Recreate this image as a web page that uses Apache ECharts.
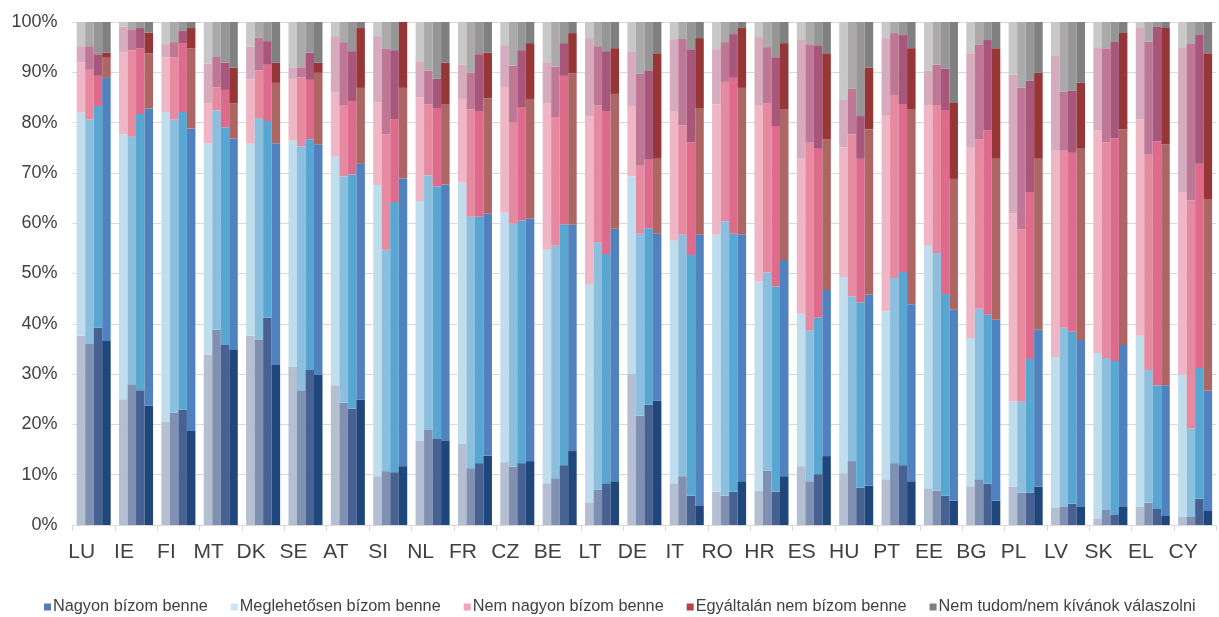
<!DOCTYPE html>
<html>
<head>
<meta charset="utf-8">
<script src="https://cdn.jsdelivr.net/npm/echarts@6/dist/echarts.min.js"></script>
<style>
  html, body { margin: 0; padding: 0; background: #fff; }
  #chart { width: 1219px; height: 617px; }
</style>
</head>
<body>
<div id="chart"></div>
<script>
// országok
const countries = ['LU', 'IE', 'FI', 'MT', 'DK', 'SE', 'AT', 'SI', 'NL', 'FR', 'CZ', 'BE', 'LT', 'DE',
  'IT', 'RO', 'HR', 'ES', 'HU', 'PT', 'EE', 'BG', 'PL', 'LV', 'SK', 'EL', 'CY'];

const answers = ['Nagyon bízom benne', 'Meglehetősen bízom benne', 'Nem nagyon bízom benne',
  'Egyáltalán nem bízom benne', 'Nem tudom/nem kívánok válaszolni'];

const yTicks = ['0%', '10%', '20%', '30%', '40%', '50%', '60%', '70%', '80%', '90%', '100%'];

// 4 hullám / válasz, sorok = hullám 1..4
const nagyon = [
  [37.6, 25.0, 20.6, 33.9, 37.6, 31.5, 27.8, 9.7, 16.8, 16.2, 12.5, 8.3, 4.5, 30.0, 8.3, 6.6, 6.8, 11.7, 10.3, 9.1, 7.3, 7.7, 7.6, 3.5, 1.2, 3.6, 1.6],
  [36.0, 28.0, 22.3, 38.8, 36.8, 26.8, 24.3, 10.7, 18.9, 11.3, 11.6, 9.3, 7.0, 21.7, 9.7, 5.8, 10.8, 8.7, 12.7, 12.3, 6.8, 9.1, 6.4, 3.7, 3.0, 4.4, 1.6],
  [39.2, 26.8, 22.9, 35.8, 41.2, 30.8, 23.1, 10.5, 17.1, 12.3, 12.3, 11.9, 8.3, 23.9, 5.8, 6.6, 6.6, 10.1, 7.4, 11.9, 5.8, 8.2, 6.4, 4.2, 2.0, 3.2, 5.2],
  [36.6, 23.7, 18.7, 34.8, 31.8, 29.8, 24.9, 11.7, 16.7, 13.8, 12.7, 14.7, 8.7, 24.7, 3.8, 8.7, 9.7, 13.7, 7.8, 8.7, 4.8, 4.8, 7.6, 3.6, 3.6, 1.8, 2.8]
];
const meglehetosen = [
  [44.4, 52.7, 61.5, 41.9, 38.2, 44.9, 45.4, 57.9, 47.6, 51.9, 49.6, 46.4, 43.4, 39.3, 48.2, 51.1, 41.6, 30.3, 39.0, 33.4, 48.2, 29.5, 17.0, 29.9, 33.0, 34.0, 28.2],
  [44.6, 49.2, 58.3, 43.6, 44.1, 48.5, 45.0, 44.0, 50.6, 50.0, 48.3, 46.2, 49.1, 36.2, 48.0, 54.6, 39.4, 29.9, 32.8, 36.8, 47.3, 33.9, 18.1, 35.5, 30.2, 26.4, 17.6],
  [44.1, 54.9, 59.2, 43.3, 39.1, 45.9, 46.6, 53.7, 50.2, 49.0, 48.2, 47.9, 45.6, 35.1, 47.9, 51.3, 40.8, 31.1, 36.9, 38.4, 40.1, 33.6, 26.6, 34.2, 30.6, 24.6, 26.0],
  [52.3, 59.1, 60.1, 42.0, 44.1, 45.9, 46.9, 57.2, 51.0, 48.1, 48.2, 45.0, 50.2, 33.2, 53.9, 49.0, 43.0, 33.0, 38.0, 35.2, 38.0, 36.0, 31.2, 33.2, 32.2, 26.0, 23.9]
];
const nemNagyon = [
  [10.0, 16.2, 10.9, 8.0, 12.8, 12.3, 12.9, 16.4, 20.6, 16.6, 25.0, 29.2, 33.3, 14.0, 25.8, 25.9, 35.1, 30.8, 25.8, 39.0, 28.0, 37.8, 37.4, 41.0, 44.2, 43.0, 36.3],
  [9.9, 17.2, 12.4, 4.6, 9.5, 13.7, 14.2, 23.0, 14.1, 21.3, 20.1, 25.6, 27.3, 13.5, 21.7, 27.7, 33.7, 37.4, 32.2, 36.4, 29.4, 33.7, 34.3, 35.2, 42.9, 42.8, 45.3],
  [6.0, 13.1, 13.7, 7.4, 11.2, 11.8, 14.6, 16.5, 15.6, 21.0, 22.6, 29.5, 28.4, 13.6, 22.4, 31.0, 31.9, 33.6, 28.5, 33.4, 36.6, 36.7, 33.2, 35.6, 44.3, 48.5, 40.6],
  [4.0, 11.0, 16.0, 7.0, 12.0, 14.2, 15.1, 18.0, 16.0, 22.9, 23.8, 30.1, 26.8, 14.9, 25.2, 29.2, 30.0, 30.0, 32.9, 38.8, 26.0, 32.0, 34.0, 38.0, 42.9, 47.9, 38.1]
];
const egyaltalan = [
  [3.2, 5.2, 2.6, 7.9, 6.5, 2.3, 11.1, 13.2, 7.2, 6.8, 8.3, 8.1, 15.6, 10.9, 14.3, 11.0, 13.5, 23.6, 9.4, 15.3, 6.8, 18.8, 27.5, 19.0, 16.6, 18.2, 28.9],
  [4.7, 4.0, 3.0, 6.2, 6.5, 2.0, 12.5, 17.1, 6.7, 7.3, 11.3, 10.0, 11.8, 18.3, 17.2, 7.9, 11.1, 19.6, 9.0, 12.3, 8.0, 18.9, 28.1, 11.7, 18.7, 22.5, 31.3],
  [4.3, 4.0, 2.4, 5.4, 4.7, 5.4, 9.9, 13.7, 5.8, 11.3, 11.3, 6.5, 11.9, 17.8, 18.5, 8.7, 13.7, 20.6, 8.5, 13.7, 8.2, 17.9, 22.1, 12.3, 19.1, 22.7, 25.6],
  [1.0, 4.1, 4.0, 7.1, 4.0, 2.0, 11.9, 13.1, 8.2, 9.1, 11.1, 8.0, 9.1, 21.0, 13.9, 11.9, 13.1, 17.1, 12.2, 12.1, 15.1, 22.0, 17.1, 13.1, 19.1, 23.1, 29.0]
];
const nemTudom = [
  [4.8, 0.9, 4.4, 8.3, 4.9, 9.0, 2.8, 2.8, 7.8, 8.5, 4.6, 8.0, 3.2, 5.8, 3.4, 5.4, 3.0, 3.6, 15.5, 3.2, 9.7, 6.2, 10.5, 6.6, 5.0, 1.2, 5.0],
  [4.8, 1.6, 4.0, 6.8, 3.1, 9.0, 4.0, 5.2, 9.7, 10.1, 8.7, 8.9, 4.8, 10.3, 3.4, 4.0, 5.0, 4.4, 13.3, 2.2, 8.5, 4.4, 13.1, 13.9, 5.2, 3.9, 4.2],
  [6.4, 1.2, 1.8, 8.1, 3.8, 6.1, 5.8, 5.6, 11.3, 6.4, 5.6, 4.2, 5.8, 9.6, 5.4, 2.4, 7.0, 4.6, 18.7, 2.6, 9.3, 3.6, 11.7, 13.7, 4.0, 1.0, 2.6],
  [6.1, 2.1, 1.2, 9.1, 8.1, 8.1, 1.2, 0.0, 8.1, 6.1, 4.2, 2.2, 5.2, 6.2, 3.2, 1.2, 4.2, 6.2, 9.1, 5.2, 16.1, 5.2, 10.1, 12.1, 2.2, 1.2, 6.2]
];

// színek hullámonként (világostól a sötétig)
const waveColors = [
  ['#b4bfd1', '#c0ddee', '#efb6c5', '#d6abbe', '#c8c8c8'],
  ['#8090b0', '#8bbfdd', '#e58aa1', '#be7895', '#aba9a9'],
  ['#476192', '#58a6d2', '#de6b8c', '#a8567b', '#969696'],
  ['#1f477b', '#4f82bf', '#ae6664', '#973636', '#808080']
];
const legendColors = ['#5b7bb6', '#c8e4f6', '#f3a3b2', '#b5434a', '#808080'];

const allData = [nagyon, meglehetosen, nemNagyon, egyaltalan, nemTudom];

const series = [];
for (let w = 0; w < 4; w++) {
  for (let a = 0; a < 5; a++) {
    series.push({
      name: answers[a],
      type: 'bar',
      stack: 'w' + w,
      barGap: '0%',
      barCategoryGap: '19.7%',
      itemStyle: { color: waveColors[w][a] },
      emphasis: { disabled: true },
      data: allData[a][w]
    });
  }
}

const chart = echarts.init(document.getElementById('chart'));
chart.setOption({
  animation: false,
  textStyle: { fontFamily: 'Liberation Sans, Arial, sans-serif' },
  grid: { left: 72.5, right: 2.7, top: 22, bottom: 92 },
  legend: {
    left: 44,
    bottom: 2,
    width: 1175,
    padding: 0,
    icon: 'rect',
    itemWidth: 7,
    itemHeight: 7,
    itemGap: 23,
    selectedMode: false,
    textStyle: { fontSize: 16.3, color: '#404040', padding: [0, 0, 0, -3] },
    data: answers.map((n, i) => ({ name: n, itemStyle: { color: legendColors[i] } }))
  },
  xAxis: {
    type: 'category',
    data: countries,
    axisLine: { lineStyle: { color: '#d9d9d9' } },
    axisTick: { show: true, length: 6, lineStyle: { color: '#d9d9d9' } },
    axisLabel: { fontSize: 21, color: '#404040', margin: 17, padding: [0, 24, 0, 0] }
  },
  yAxis: {
    type: 'value',
    min: 0,
    max: 100,
    interval: 10,
    axisLine: { show: false },
    axisTick: { show: false },
    splitLine: { lineStyle: { color: '#d9d9d9' } },
    axisLabel: {
      fontSize: 18,
      color: '#404040',
      margin: 15,
      formatter: v => yTicks[Math.round(v / 10)]
    }
  },
  series: series
});
</script>
</body>
</html>
